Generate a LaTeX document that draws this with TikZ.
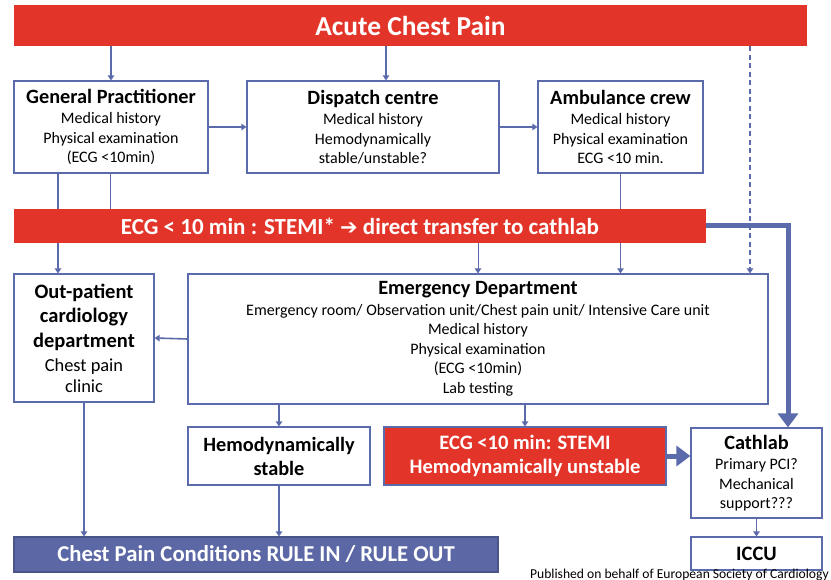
\documentclass[tikz,border=0pt]{standalone}
\usepackage{fontspec}
\setmainfont{Carlito}
\newfontfamily\symfont{DejaVu Sans}
\usetikzlibrary{arrows.meta}
\definecolor{esblue}{RGB}{91,106,170}
\definecolor{esred}{RGB}{227,52,42}
\definecolor{esbar}{RGB}{92,104,165}
\newcommand{\hdr}{\fontsize{20.3}{21.5}\selectfont\bfseries}
\newcommand{\ohdr}{\fontsize{20.5}{24.5}\selectfont\bfseries}
\newcommand{\osub}{\fontsize{18.4}{20.5}\selectfont}
\begin{document}
\begin{tikzpicture}[x=1pt,y=-1pt,
  box/.style={draw=esblue,line width=1.2pt,fill=white,align=center,inner sep=0pt,
    font=\fontsize{16}{19.5}\selectfont},
  redbar/.style={fill=esred,text=white,align=center,inner sep=0pt},
  link/.style={esblue,line width=1.6pt,-{Triangle[width=6.5pt,length=5pt]}},
  plain/.style={esblue,line width=1.6pt},
  heavy/.style={esblue,line width=5pt,-{Triangle[width=20pt,length=14pt]}}]
  \useasboundingbox (0,0) rectangle (831,580);
  \node[redbar,minimum width=793pt,minimum height=41pt,font=\fontsize{27.4}{30}\selectfont\bfseries]
    (title) at (410.5,25.5) {Acute Chest Pain};
  \node[box,minimum width=194pt,minimum height=92pt] (gp) at (111,127)
    {{\hdr General Practitioner}\\[1pt]Medical history\\Physical examination\\(ECG <10min)};
  \node[box,minimum width=252pt,minimum height=92pt] (disp) at (373,127)
    {{\hdr Dispatch centre}\\[1pt]Medical history\\Hemodynamically\\stable/unstable?};
  \node[box,minimum width=165pt,minimum height=92pt] (amb) at (620.5,127)
    {{\hdr Ambulance crew}\\[1pt]Medical history\\Physical examination\\ECG <10 min.};
  \node[redbar,minimum width=692pt,minimum height=34pt,font=\fontsize{23}{26}\selectfont\bfseries]
    (ecg) at (360,226) {ECG < 10 min : STEMI* {\symfont\mdseries\fontsize{21}{26}\selectfont ➔} direct transfer to cathlab};
  \node[box,minimum width=140pt,minimum height=128pt] (opd) at (84,338)
    {{\ohdr Out-patient}\\[5pt]{\ohdr cardiology}\\[5pt]{\ohdr department}\\[4.5pt]{\osub Chest pain}\\[1.5pt]{\osub clinic}};
  \node[box,minimum width=580pt,minimum height=130pt] (ed) at (478,339)
    {{\hdr Emergency Department}\\[1pt]Emergency room/ Observation unit/Chest pain unit/ Intensive Care unit\\
     Medical history\\Physical examination\\(ECG <10min)\\Lab testing};
  \node[box,minimum width=182pt,minimum height=58pt,font=\fontsize{20.3}{24}\selectfont\bfseries]
    (stab) at (279,456) {Hemodynamically\\stable};
  \node[redbar,draw=esblue,line width=1.2pt,minimum width=282pt,minimum height=58pt,
    font=\fontsize{20.5}{24}\selectfont\bfseries] (stemi) at (525,456)
    {ECG <10 min: STEMI\\Hemodynamically unstable};
  \node[box,minimum width=131pt,minimum height=90pt] (cath) at (756.5,473)
    {{\hdr Cathlab}\\[1pt]Primary PCI?\\Mechanical\\support???};
  \node[box,minimum width=131pt,minimum height=33pt,font=\fontsize{20.5}{22}\selectfont\bfseries]
    (iccu) at (756.5,553.5) {ICCU};
  \node[fill=esbar,draw=esblue!80!black,line width=1.2pt,text=white,inner sep=0pt,
    minimum width=484pt,minimum height=35pt,font=\fontsize{22.7}{25}\selectfont\bfseries]
    (rule) at (256,554.5) {Chest Pain Conditions RULE IN / RULE OUT};
  \node[anchor=base east,inner sep=0pt,font=\fontsize{13.6}{15}\selectfont] (credit) at (829,578)
    {Published on behalf of European Society of Cardiology};
  \coordinate (dash) at (750,0);
  \draw[link] (title.south -| gp.north) -- (gp.north);
  \draw[link] ([xshift=13pt]disp.north |- title.south) -- ([xshift=13pt]disp.north);
  \draw[link,dash pattern=on 5pt off 3.5pt] (title.south -| dash) -- (ed.north -| dash);
  \draw[link] (gp.east) -- (disp.west);
  \draw[link] (disp.east) -- (amb.west);
  \draw[plain] ([xshift=-53pt]gp.south) -- ([xshift=-53pt]gp.south |- ecg.north);
  \draw[link] ([xshift=-53pt]gp.south |- ecg.south) -- ([xshift=-53pt]gp.south |- opd.north);
  \draw[esblue,line width=0.8pt] ([xshift=-1pt]gp.south) -- ([xshift=-1pt]gp.south |- ecg.north);
  \draw[plain] (amb.south) -- (amb.south |- ecg.north);
  \draw[link] (amb.south |- ecg.south) -- (amb.south |- ed.north);
  \draw[link,line width=0.9pt] (ecg.south -| ed.north) -- (ed.north);
  \draw[heavy] (ecg.east) -| ([xshift=31.5pt]cath.north);
  \draw[link] (ed.west) -- (opd.east);
  \draw[link] (opd.south) -- (opd.south |- rule.north);
  \draw[link] (ed.south -| stab.north) -- (stab.north);
  \draw[link] (ed.south -| stemi.north) -- (stemi.north);
  \draw[link] (stab.south) -- (stab.south |- rule.north);
  \draw[heavy] (stemi.east) -- (stemi.east -| cath.west);
  \draw[link] (cath.south) -- (iccu.north);
\end{tikzpicture}
\end{document}
